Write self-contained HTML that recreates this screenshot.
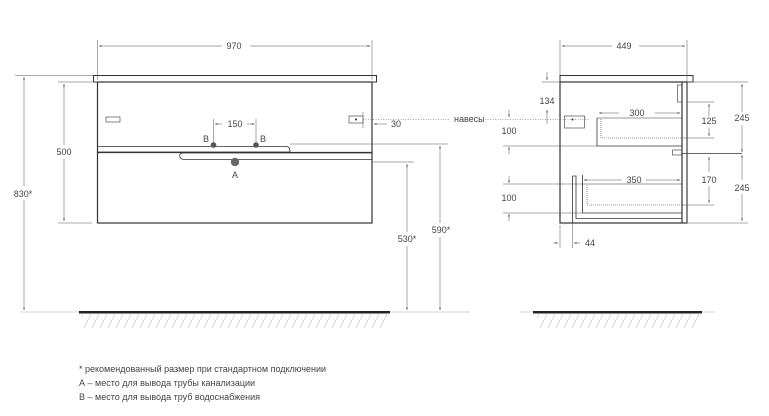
<!DOCTYPE html>
<html><head><meta charset="utf-8"><style>
body{margin:0;background:#fff}
svg{display:block}
text{font-family:"Liberation Sans",sans-serif;fill:#444;font-size:9px}
</style></head><body>
<svg width="769" height="416" viewBox="0 0 769 416" xmlns="http://www.w3.org/2000/svg">
<defs>
<pattern id="h" width="8" height="16" patternUnits="userSpaceOnUse">
<line x1="0" y1="16" x2="8" y2="0" stroke="#bbb" stroke-width="0.6"/>
</pattern>
<marker id="a" viewBox="0 0 6 6" refX="6" refY="3" markerWidth="5" markerHeight="5" orient="auto-start-reverse"><path d="M0,1 L6,3 L0,5z" fill="#444"/></marker>
</defs>
<g stroke="#444" stroke-width="0.6" fill="none">
<line x1="20" y1="312" x2="470" y2="312" stroke="#aaa"/>
<line x1="520" y1="312" x2="715" y2="312" stroke="#aaa"/>
</g>
<rect x="79" y="311" width="311" height="2.5" fill="#222"/>
<rect x="533" y="311" width="169" height="2.5" fill="#222"/>
<rect x="82" y="313" width="306" height="15" fill="url(#h)"/>
<rect x="537" y="313" width="163" height="15" fill="url(#h)"/>

<g stroke="#333" fill="none">
<rect x="93.5" y="75.5" width="283" height="6.5" stroke-width="1"/>
<rect x="97.5" y="82" width="274.5" height="141" stroke-width="1.2"/>
<path d="M97.5,146.5 H286 Q290,146.5 290,152 H97.5" stroke-width="0.8"/>
<line x1="97.5" y1="152.5" x2="372" y2="152.5" stroke-width="1.2"/>
<path d="M372,153 H183 Q179,153 180,157 Q181,159.5 185,159.5 H372" stroke-width="0.8"/>
<rect x="106" y="117" width="14" height="5" stroke-width="0.6"/>
<rect x="349" y="116" width="14" height="7" stroke-width="0.6"/>
</g>
<circle cx="213.5" cy="145" r="2.8" fill="#555"/>
<circle cx="256" cy="145" r="2.8" fill="#555"/>
<circle cx="235" cy="162" r="4.2" fill="#666"/>
<circle cx="356" cy="119.5" r="1" fill="#222"/>
<text x="206" y="142" text-anchor="middle">B</text>
<text x="263" y="142" text-anchor="middle">B</text>
<text x="235" y="178" text-anchor="middle">A</text>

<g stroke="#555" stroke-width="0.5" fill="none">
<line x1="97.5" y1="40" x2="97.5" y2="80"/><line x1="372" y1="40" x2="372" y2="80"/>
<line x1="99" y1="46" x2="222" y2="46" marker-start="url(#a)"/><line x1="250" y1="46" x2="370" y2="46" marker-end="url(#a)"/>
<line x1="15" y1="75.5" x2="93" y2="75.5"/>
<line x1="24" y1="77" x2="24" y2="186" marker-start="url(#a)"/><line x1="24" y1="200" x2="24" y2="310" marker-end="url(#a)"/>
<line x1="58" y1="82" x2="97" y2="82"/><line x1="58" y1="223" x2="92" y2="223"/>
<line x1="64" y1="84" x2="64" y2="145" marker-start="url(#a)"/><line x1="64" y1="159" x2="64" y2="221" marker-end="url(#a)"/>
<line x1="213.5" y1="119" x2="213.5" y2="145"/><line x1="256" y1="119" x2="256" y2="145"/>
<line x1="215" y1="124" x2="222" y2="124" marker-start="url(#a)"/><line x1="247" y1="124" x2="254.5" y2="124" marker-end="url(#a)"/>
<line x1="363" y1="112" x2="363" y2="128"/>
<line x1="374" y1="124" x2="387" y2="124" marker-start="url(#a)"/>
<line x1="363" y1="119.5" x2="450" y2="119.5" stroke-dasharray="1,1.5"/>
<line x1="290" y1="144" x2="448" y2="144"/>
<line x1="373" y1="162" x2="414" y2="162"/>
<line x1="407" y1="164" x2="407" y2="232" marker-start="url(#a)"/><line x1="407" y1="246" x2="407" y2="310" marker-end="url(#a)"/>
<line x1="440" y1="146" x2="440" y2="223" marker-start="url(#a)"/><line x1="440" y1="237" x2="440" y2="310" marker-end="url(#a)"/>
</g>
<text x="234" y="49" text-anchor="middle">970</text>
<text x="23" y="197" text-anchor="middle">830*</text>
<text x="64" y="155" text-anchor="middle">500</text>
<text x="235" y="127" text-anchor="middle">150</text>
<text x="396" y="127" text-anchor="middle">30</text>
<text x="407" y="242" text-anchor="middle">530*</text>
<text x="441" y="233" text-anchor="middle">590*</text>
<text x="454" y="122">навесы</text>

<g stroke="#333" fill="none">
<rect x="560" y="75.5" width="133" height="6.5" stroke-width="1"/>
<rect x="560" y="82" width="127" height="141" stroke-width="1.2"/>
<line x1="682" y1="82" x2="682" y2="223" stroke-width="1.2"/>
<rect x="677.5" y="85" width="4.5" height="17" stroke-width="0.6"/>
<rect x="672.5" y="150" width="9.5" height="5" stroke-width="0.6"/>
<line x1="682" y1="153.5" x2="742" y2="153.5" stroke-width="0.8"/>
<path d="M597,118 V146 H682" stroke-width="0.8"/>
<line x1="597" y1="118" x2="682" y2="118" stroke-width="0.6"/>
<path d="M601,119 V138 H682" stroke-width="0.6" stroke-dasharray="1,1"/>
<path d="M572.5,176 H576 V218.5 H682 M572.5,176 V223" stroke-width="0.8"/>
<path d="M582.5,175 V213 H682" stroke-width="0.8"/>
<line x1="582.5" y1="184" x2="682" y2="184" stroke-width="0.6"/>
<path d="M587,185 V205 H682" stroke-width="0.6" stroke-dasharray="1,1"/>
<rect x="564.5" y="116" width="20" height="12" stroke-width="0.6"/>
</g>
<circle cx="572.5" cy="119.5" r="1" fill="#222"/>
<g stroke="#555" stroke-width="0.5" fill="none">
<line x1="560" y1="40" x2="560" y2="75"/><line x1="687" y1="40" x2="687" y2="223"/>
<line x1="562" y1="46" x2="612" y2="46" marker-start="url(#a)"/><line x1="639" y1="46" x2="685" y2="46" marker-end="url(#a)"/>
<line x1="542" y1="82" x2="560" y2="82"/>
<line x1="547" y1="72" x2="547" y2="80" marker-end="url(#a)"/>
<line x1="547" y1="110" x2="547" y2="124" marker-start="url(#a)"/>
<line x1="485" y1="119.5" x2="590" y2="119.5" stroke-dasharray="1,1.5"/>
<line x1="503" y1="146" x2="597" y2="146"/>
<line x1="509" y1="110" x2="509" y2="117" marker-end="url(#a)"/><line x1="509" y1="147" x2="509" y2="154" marker-start="url(#a)"/>
<line x1="503" y1="184" x2="582" y2="184"/><line x1="503" y1="213" x2="582" y2="213"/>
<line x1="509" y1="176" x2="509" y2="183" marker-end="url(#a)"/><line x1="509" y1="214" x2="509" y2="221" marker-start="url(#a)"/>
<line x1="599" y1="113" x2="619" y2="113" marker-start="url(#a)"/><line x1="655" y1="113" x2="680" y2="113" marker-end="url(#a)"/>
<line x1="584" y1="180" x2="622" y2="180" marker-start="url(#a)"/><line x1="646" y1="180" x2="680" y2="180" marker-end="url(#a)"/>
<line x1="560" y1="225" x2="560" y2="248"/><line x1="572.5" y1="223" x2="572.5" y2="248"/>
<line x1="553" y1="243" x2="558" y2="243" marker-end="url(#a)"/><line x1="574" y1="243" x2="580" y2="243" marker-start="url(#a)"/>
<line x1="687" y1="102" x2="714" y2="102"/><line x1="682" y1="138" x2="714" y2="138"/>
<line x1="709" y1="104" x2="709" y2="116" marker-start="url(#a)"/><line x1="709" y1="128" x2="709" y2="136" marker-end="url(#a)"/>
<line x1="687" y1="82" x2="748" y2="82"/><line x1="687" y1="223" x2="748" y2="223"/>
<line x1="742" y1="84" x2="742" y2="112" marker-start="url(#a)"/><line x1="742" y1="125" x2="742" y2="152" marker-end="url(#a)"/>
<line x1="742" y1="155" x2="742" y2="180" marker-start="url(#a)"/><line x1="742" y1="194" x2="742" y2="221" marker-end="url(#a)"/>
<line x1="709" y1="157" x2="709" y2="172" marker-start="url(#a)"/><line x1="709" y1="186" x2="709" y2="203" marker-end="url(#a)"/>
<line x1="682" y1="205" x2="714" y2="205"/>
</g>
<text x="624" y="49" text-anchor="middle">449</text>
<text x="547" y="104" text-anchor="middle">134</text>
<text x="509" y="134" text-anchor="middle">100</text>
<text x="509" y="201" text-anchor="middle">100</text>
<text x="637" y="116" text-anchor="middle">300</text>
<text x="634" y="183" text-anchor="middle">350</text>
<text x="590" y="246" text-anchor="middle">44</text>
<text x="709" y="124" text-anchor="middle">125</text>
<text x="709" y="183" text-anchor="middle">170</text>
<text x="742" y="121" text-anchor="middle">245</text>
<text x="742" y="191" text-anchor="middle">245</text>

<text x="79" y="372" font-size="8.6">* рекомендованный размер при стандартном подключении</text>
<text x="79" y="386" font-size="8.6">А – место для вывода трубы канализации</text>
<text x="79" y="400" font-size="8.6">В – место для вывода труб водоснабжения</text>
</svg>
</body></html>
